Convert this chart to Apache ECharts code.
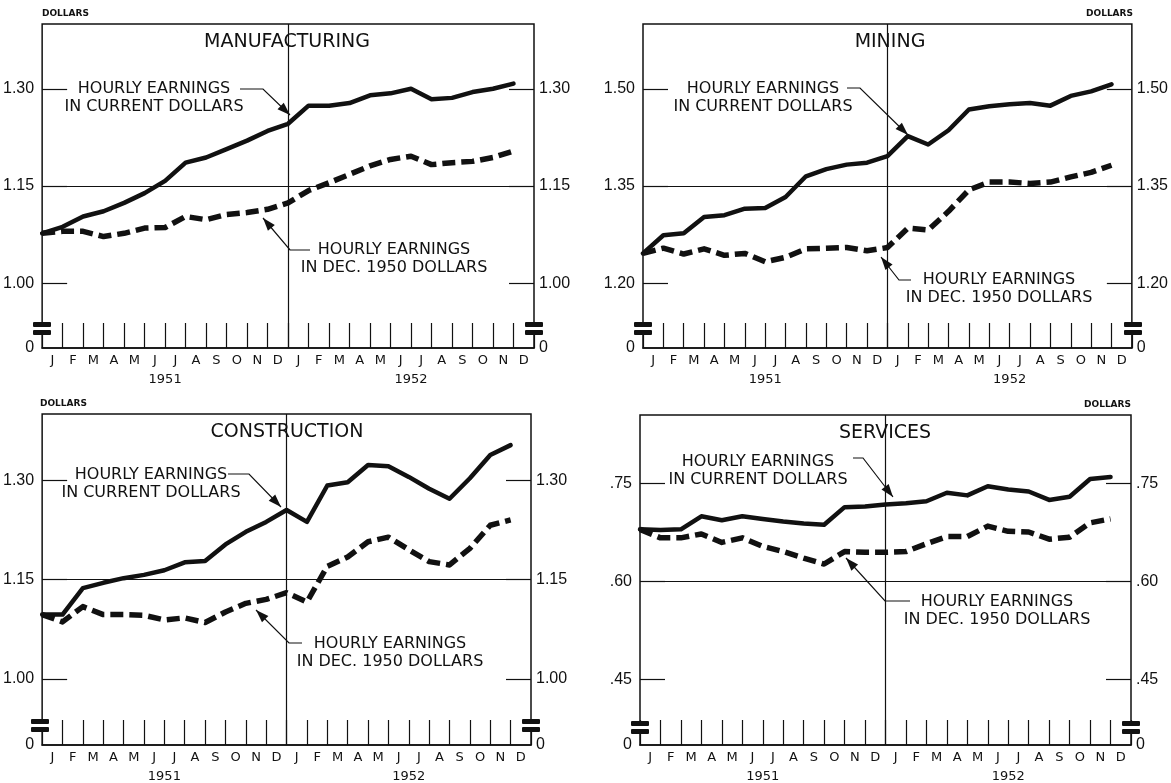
<!DOCTYPE html>
<html><head><meta charset="utf-8">
<script src="https://cdn.jsdelivr.net/npm/echarts@6/dist/echarts.min.js"></script>
<style>html,body{margin:0;padding:0;background:#fff;}#c{width:1171px;height:783px;}</style>
</head><body><div id="c"></div>
<script>
// ---- data (points: Dec 1950 ... Nov 1952, plotted at month boundaries) ----
const months = ['J','F','M','A','M','J','J','A','S','O','N','D','J','F','M','A','M','J','J','A','S','O','N','D'];
const years = ['1951','1952'];

const mfgCurrent = [1.077,1.087,1.103,1.111,1.124,1.139,1.158,1.186,1.194,1.207,1.220,1.235,1.246,1.274,1.274,1.278,1.290,1.293,1.300,1.284,1.286,1.295,1.300,1.308];
const mfgReal    = [1.077,1.080,1.080,1.072,1.077,1.085,1.086,1.103,1.098,1.106,1.109,1.114,1.124,1.143,1.155,1.168,1.181,1.191,1.196,1.183,1.186,1.188,1.194,1.204];
const mfgTicks   = [1.00,1.15,1.30];

const minCurrent = [1.246,1.274,1.277,1.302,1.305,1.315,1.316,1.333,1.365,1.376,1.383,1.386,1.396,1.427,1.414,1.436,1.468,1.473,1.476,1.478,1.474,1.489,1.496,1.507];
const minReal    = [1.246,1.254,1.245,1.253,1.243,1.246,1.233,1.240,1.253,1.254,1.255,1.250,1.255,1.285,1.282,1.311,1.344,1.356,1.356,1.354,1.356,1.364,1.371,1.382];
const minTicks   = [1.20,1.35,1.50];

const conCurrent = [1.097,1.097,1.137,1.145,1.152,1.157,1.164,1.176,1.178,1.203,1.222,1.237,1.255,1.237,1.292,1.297,1.323,1.321,1.305,1.287,1.272,1.303,1.338,1.353];
const conReal    = [1.097,1.086,1.109,1.097,1.097,1.096,1.089,1.092,1.085,1.101,1.114,1.120,1.130,1.116,1.170,1.184,1.207,1.214,1.195,1.177,1.172,1.197,1.232,1.240];
const conTicks   = [1.00,1.15,1.30];

const svcCurrent = [0.680,0.679,0.680,0.700,0.694,0.700,0.696,0.692,0.689,0.687,0.714,0.715,0.718,0.720,0.723,0.736,0.732,0.746,0.741,0.738,0.725,0.730,0.757,0.760];
const svcReal    = [0.680,0.667,0.667,0.673,0.660,0.667,0.654,0.646,0.636,0.627,0.646,0.645,0.645,0.646,0.658,0.669,0.669,0.685,0.677,0.676,0.665,0.668,0.690,0.696];
const svcTicks   = [0.45,0.60,0.75];

const curLabel  = 'HOURLY EARNINGS\nIN CURRENT DOLLARS';
const realLabel = 'HOURLY EARNINGS\nIN DEC. 1950 DOLLARS';

// ---- layout ----
const FONT = "'DejaVu Sans', sans-serif";
const NUMFONT = "'Liberation Sans', Arial, sans-serif";
const INK = '#111';

const panels = [
  {title:'MANUFACTURING', cur:mfgCurrent, real:mfgReal, ticks:mfgTicks, min:0.90, max:1.40,
   grid:{left:42, top:24, width:492, height:324}, dollars:'left', lead:false, titlePos:[287,42],
   curText:[154,98], curLeader:[[240,89],[263,89],[290,115]],
   realText:[394,259], realLeader:[[310,250],[290,250],[263,218]]},
  {title:'MINING', cur:minCurrent, real:minReal, ticks:minTicks, min:1.10, max:1.60,
   grid:{left:643, top:24, width:490, height:324}, dollars:'right', lead:false, titlePos:[890,42],
   curText:[763,98], curLeader:[[847,88],[860,88],[908,135]],
   realText:[999,289], realLeader:[[911,280],[899,280],[881,257]]},
  {title:'CONSTRUCTION', cur:conCurrent, real:conReal, ticks:conTicks, min:0.90, max:1.40,
   grid:{left:40, top:414, width:491, height:331}, dollars:'left', lead:false, titlePos:[287,432],
   curText:[151,484], curLeader:[[228,474],[249,474],[281,507]],
   realText:[390,653], realLeader:[[302,643],[289,643],[256,610]]},
  {title:'SERVICES', cur:svcCurrent, real:svcReal, ticks:svcTicks, min:0.35, max:0.855,
   grid:{left:640, top:415, width:491, height:332}, dollars:'right', lead:true, titlePos:[885,433],
   curText:[758,471], curLeader:[[853,458],[863,458],[893,497]],
   realText:[997,611], realLeader:[[910,601],[885,601],[846,558]]}
];

function fmtFor(p){
  return function(v){
    if (Math.abs(v - p.min) < 1e-9) return '0';
    let s = v.toFixed(2);
    if (p.lead) s = s.replace(/^0/, '');
    return s;
  };
}

const grid = [], xAxis = [], yAxis = [], series = [], graphic = [];
panels.forEach((p, i) => {
  grid.push(Object.assign({show:true, borderColor:INK, borderWidth:1.5, backgroundColor:'transparent'}, p.grid));
  xAxis.push({type:'value', gridIndex:i, min:0, max:24, interval:1,
    axisLine:{show:true, lineStyle:{color:INK, width:1.5}},
    axisTick:{show:true, inside:true, length:25, lineStyle:{color:INK, width:1.2}},
    axisLabel:{show:false}, splitLine:{show:false}});
  xAxis.push({type:'category', gridIndex:i, data:months, position:'bottom', boundaryGap:true,
    axisLine:{show:false}, axisTick:{show:false}, splitLine:{show:false},
    axisLabel:{interval:0, margin:6, fontSize:13, color:INK, fontFamily:FONT}});
  xAxis.push({type:'category', gridIndex:i, data:years, position:'bottom', offset:19, boundaryGap:true,
    axisLine:{show:false}, axisTick:{show:false}, splitLine:{show:false},
    axisLabel:{interval:0, margin:6, fontSize:13, color:INK, fontFamily:FONT}});
  ['left','right'].forEach(side => {
    yAxis.push({type:'value', gridIndex:i, min:p.min, max:p.max, position:side,
      axisLine:{show:false}, splitLine:{show:false},
      axisTick:{show:true, inside:true, length:25, customValues:p.ticks, lineStyle:{color:INK, width:1.2}},
      axisLabel:{customValues:[p.min].concat(p.ticks), formatter:fmtFor(p), margin:side==='left'?8:5,
        fontSize:16, color:INK, fontFamily:NUMFONT}});
  });
  series.push({type:'line', xAxisIndex:3*i, yAxisIndex:2*i, data:p.cur.map((v,k)=>[k,v]),
    symbol:'none', z:4, lineStyle:{color:INK, width:4.5, cap:'round', join:'round'},
    markLine:{silent:true, symbol:'none', label:{show:false}, animation:false,
      lineStyle:{color:INK, width:1.2, type:'solid'},
      data:[{xAxis:12},{yAxis:p.ticks[1]}]}});
  series.push({type:'line', xAxisIndex:3*i, yAxisIndex:2*i, data:p.real.map((v,k)=>[k,v]),
    symbol:'none', z:4, lineStyle:{color:INK, width:5.5, type:[13,6], cap:'butt', join:'round'}});

  const g = p.grid, bottom = g.top + g.height;
  graphic.push({type:'text', x:p.titlePos[0], y:p.titlePos[1], z:100,
    style:{text:p.title, fill:INK, font:'19px '+FONT, align:'center', verticalAlign:'middle', textAlign:'center', textVerticalAlign:'middle'}});
  const dx = p.dollars==='left' ? g.left : g.left + g.width;
  graphic.push({type:'text', x:dx, y:g.top-10, z:100,
    style:{text:'DOLLARS', fill:INK, font:'bold 9px '+FONT, align:p.dollars, verticalAlign:'middle', textAlign:p.dollars, textVerticalAlign:'middle'}});
  [[curLabel, p.curText, p.curLeader],[realLabel, p.realText, p.realLeader]].forEach(([txt, pos, lead]) => {
    graphic.push({type:'text', x:pos[0], y:pos[1], z:100,
      style:{text:txt, fill:INK, font:'16px '+FONT, lineHeight:18, align:'center', verticalAlign:'middle',
        textAlign:'center', textVerticalAlign:'middle'}});
    graphic.push({type:'polyline', z:100, shape:{points:lead}, style:{stroke:INK, lineWidth:1.2, fill:null}});
    const a = lead[lead.length-2], b = lead[lead.length-1];
    const ang = Math.atan2(b[1]-a[1], b[0]-a[0]), L = 13, W = 4.5;
    const bx = b[0] - L*Math.cos(ang), by = b[1] - L*Math.sin(ang);
    graphic.push({type:'polygon', z:101, shape:{points:[b,
      [bx + W*Math.sin(ang), by - W*Math.cos(ang)], [bx - W*Math.sin(ang), by + W*Math.cos(ang)]]},
      style:{fill:INK}});
  });
  [g.left, g.left + g.width].forEach(ax => {
    graphic.push({type:'rect', z:100, shape:{x:ax-9, y:bottom-26, width:18, height:5, r:1}, style:{fill:INK}});
    graphic.push({type:'rect', z:100, shape:{x:ax-9, y:bottom-21, width:18, height:3}, style:{fill:'#fff'}});
    graphic.push({type:'rect', z:100, shape:{x:ax-9, y:bottom-18, width:18, height:5, r:1}, style:{fill:INK}});
  });
});

const chart = echarts.init(document.getElementById('c'), null, {renderer:'canvas'});
chart.setOption({animation:false, backgroundColor:'#fff', grid, xAxis, yAxis, series, graphic});
</script></body></html>
